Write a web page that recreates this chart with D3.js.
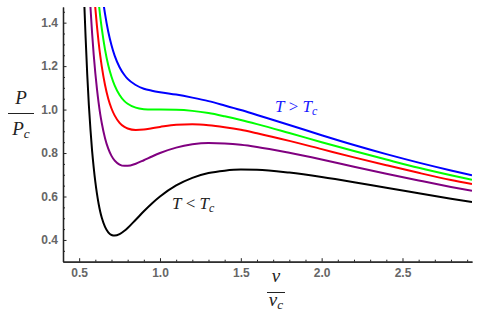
<!DOCTYPE html>
<html lang="en">
<head>
  <meta charset="UTF-8">
  <title>van der Waals isotherms</title>
  <script src="https://cdn.jsdelivr.net/npm/d3@7/dist/d3.min.js"></script>
  <style>
    html, body { margin: 0; padding: 0; background: #fff; }
    .tick text { font-family: "Liberation Sans", Arial, sans-serif; font-weight: bold; font-size: 12px; fill: #666; }
    .math { font-family: "Liberation Serif", "Times New Roman", serif; fill: #222; }
  </style>
</head>
<body>
  <svg id="chart" width="478" height="320"></svg>
  <script>
    //
    // Data
    //

    // reduced volume v / v_c
    var vGrid = [0.52, 0.53, 0.54, 0.55, 0.56, 0.57, 0.58, 0.59, 0.60, 0.61, 0.62, 0.63, 0.64,
      0.66, 0.68, 0.70, 0.72, 0.75, 0.78, 0.80, 0.85, 0.90, 0.95, 1.0, 1.1, 1.2, 1.3, 1.4,
      1.5, 1.6, 1.8, 2.0, 2.2, 2.4, 2.6, 2.8, 2.93]

    // reduced pressure P / P_c for each isotherm (null = above the plot)
    var pBlack = [1.76, 1.52, 1.33, 1.16, 1.02, 0.907, 0.81, 0.733, 0.667, 0.613, 0.568, 0.531, 0.502,
      0.460, 0.435, 0.423, 0.420, 0.427, 0.442, 0.455, 0.493, 0.532, 0.568, 0.600, 0.651, 0.686, 0.708, 0.719,
      0.724, 0.723, 0.710, 0.690, 0.666, 0.640, 0.615, 0.590, 0.575]
    var pPurple = [null, null, 1.97, 1.775, 1.61, 1.47, 1.352, 1.252, 1.167, 1.095, 1.033, 0.980, 0.937,
      0.868, 0.820, 0.787, 0.765, 0.747, 0.741, 0.741, 0.751, 0.767, 0.784, 0.800, 0.825, 0.840, 0.846, 0.844,
      0.838, 0.828, 0.801, 0.770, 0.737, 0.705, 0.674, 0.644, 0.626]
    var pRed = [null, null, null, null, null, 1.808, 1.677, 1.564, 1.467, 1.384, 1.312, 1.250, 1.198,
      1.113, 1.050, 1.005, 0.972, 0.939, 0.920, 0.913, 0.906, 0.908, 0.914, 0.920, 0.930, 0.932, 0.928, 0.919,
      0.907, 0.891, 0.856, 0.818, 0.780, 0.744, 0.709, 0.676, 0.657]
    var pGreen = [null, null, null, null, null, null, null, 1.772, 1.667, 1.577, 1.498, 1.430, 1.372,
      1.276, 1.204, 1.151, 1.110, 1.067, 1.039, 1.027, 1.009, 1.002, 1.000, 1.000, 0.999, 0.994, 0.984, 0.969,
      0.952, 0.933, 0.892, 0.850, 0.809, 0.770, 0.732, 0.698, 0.677]
    var pBlue = [null, null, null, null, null, null, null, null, null, 1.769, 1.684, 1.610, 1.546,
      1.440, 1.358, 1.296, 1.247, 1.195, 1.159, 1.141, 1.113, 1.096, 1.087, 1.080, 1.069, 1.055, 1.039, 1.019,
      0.998, 0.975, 0.929, 0.882, 0.837, 0.795, 0.756, 0.720, 0.698]

    var seriesValues = [pBlack, pPurple, pRed, pGreen, pBlue]
    var seriesColors = ['#000000', '#800080', '#ff0000', '#00ff00', '#0000ff']

    var xMajor = [0.5, 1.0, 1.5, 2.0, 2.5]
    var xMinor = [0.4, 0.6, 0.7, 0.8, 0.9, 1.1, 1.2, 1.3, 1.4, 1.6, 1.7, 1.8, 1.9, 2.1, 2.2, 2.3, 2.4, 2.6, 2.7, 2.8, 2.9]
    var yMajor = [0.4, 0.6, 0.8, 1.0, 1.2, 1.4]
    var yMinor = [0.35, 0.45, 0.5, 0.55, 0.65, 0.7, 0.75, 0.85, 0.9, 0.95, 1.05, 1.1, 1.15, 1.25, 1.3, 1.35, 1.45]

    //
    // Setup
    //

    var svg = d3.select('#chart')
    var x = d3.scaleLinear().domain([0.4, 2.93]).range([63, 472])
    var y = d3.scaleLinear().domain([0.3, 1.472]).range([261.7, 7])

    svg.append('clipPath').attr('id', 'plot-clip')
      .append('rect')
      .attr('x', x(0.4)).attr('y', y(1.472))
      .attr('width', x(2.93) - x(0.4)).attr('height', y(0.3) - y(1.472))

    //
    // Curves
    //

    var line = d3.line()
      .defined(function (d) { return d[1] != null })
      .x(function (d) { return x(d[0]) })
      .y(function (d) { return y(d[1]) })
      .curve(d3.curveMonotoneX)

    var curves = svg.append('g').attr('clip-path', 'url(#plot-clip)')
    seriesValues.forEach(function (vals, i) {
      var pts = vGrid.map(function (v, j) { return [v, vals[j]] })
      curves.append('path')
        .attr('d', line(pts))
        .attr('fill', 'none')
        .attr('stroke', seriesColors[i])
        .attr('stroke-width', 2)
    })

    //
    // Axes
    //

    var axisColor = '#222'

    function styleAxis(g) {
      g.selectAll('.domain').attr('stroke', axisColor)
      g.selectAll('.tick line').attr('stroke', axisColor)
    }

    svg.append('g')
      .attr('transform', 'translate(0,' + y(0.3) + ')')
      .call(d3.axisBottom(x).tickValues(xMinor).tickSize(-2).tickSizeOuter(0).tickFormat(''))
      .call(styleAxis)
    svg.append('g')
      .attr('transform', 'translate(0,' + y(0.3) + ')')
      .call(d3.axisBottom(x).tickValues(xMajor).tickSize(-3.5).tickSizeOuter(0).tickPadding(7).tickFormat(d3.format('.1f')))
      .call(styleAxis)

    svg.append('g')
      .attr('transform', 'translate(' + x(0.4) + ',0)')
      .call(d3.axisLeft(y).tickValues(yMinor).tickSize(-2).tickSizeOuter(0).tickFormat(''))
      .call(styleAxis)
    svg.append('g')
      .attr('transform', 'translate(' + x(0.4) + ',0)')
      .call(d3.axisLeft(y).tickValues(yMajor).tickSize(-3.5).tickSizeOuter(0).tickPadding(5).tickFormat(d3.format('.1f')))
      .call(styleAxis)

    svg.selectAll('.domain').attr('stroke-width', 1.3)

    //
    // Math-style text
    //

    function mathText(g, px, py, size, parts, color, anchor) {
      var t = g.append('text').attr('class', 'math').attr('x', px).attr('y', py)
        .attr('text-anchor', anchor || 'start')
        .style('font-size', size + 'px')
        .style('fill', color || '#222')
      parts.forEach(function (p) {
        var s = t.append('tspan').text(p.t)
        if (p.i) s.style('font-style', 'italic')
        if (p.sub) s.attr('dy', 3).style('font-size', (size * 0.7) + 'px')
      })
      return t
    }

    // P / P_c
    var yl = svg.append('g')
    mathText(yl, 21, 104, 19, [{ t: 'P', i: true }], '#222', 'middle')
    yl.append('line').attr('x1', 8).attr('x2', 34).attr('y1', 113.5).attr('y2', 113.5)
      .attr('stroke', '#222').attr('stroke-width', 1)
    mathText(yl, 21, 135, 19, [{ t: 'P', i: true }, { t: 'c', i: true, sub: true }], '#222', 'middle')

    // v / v_c
    var xl = svg.append('g')
    mathText(xl, 276, 282, 19, [{ t: 'v', i: true }], '#222', 'middle')
    xl.append('line').attr('x1', 267).attr('x2', 285).attr('y1', 292.5).attr('y2', 292.5)
      .attr('stroke', '#222').attr('stroke-width', 1)
    mathText(xl, 276, 306, 19, [{ t: 'v', i: true }, { t: 'c', i: true, sub: true }], '#222', 'middle')

    //
    // Annotations
    //

    var ann = svg.append('g')
    mathText(ann, 275, 112, 17, [{ t: 'T', i: true }, { t: ' > ' }, { t: 'T', i: true }, { t: 'c', i: true, sub: true }], '#1a1aff')
    mathText(ann, 172, 209, 17, [{ t: 'T', i: true }, { t: ' < ' }, { t: 'T', i: true }, { t: 'c', i: true, sub: true }], '#222')
  </script>
</body>
</html>
